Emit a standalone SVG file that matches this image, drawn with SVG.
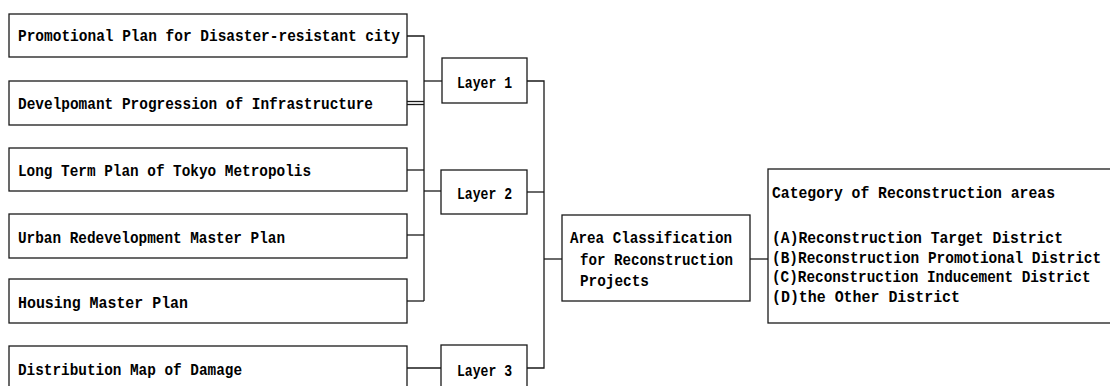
<svg xmlns="http://www.w3.org/2000/svg" width="1110" height="386" viewBox="0 0 1110 386">
<style>
.box{fill:#fff;stroke:#1a1a1a;stroke-width:1.3}
.ln{fill:none;stroke:#1a1a1a;stroke-width:1.3}
text{font-family:"Liberation Mono","DejaVu Sans Mono",monospace;font-weight:bold;font-size:16.5px;fill:#000}
</style>
<rect width="1110" height="386" fill="#fff"/>
<g id="connectors">
<polyline class="ln" points="407,36 424,36 424,301"/>
<line class="ln" x1="407" y1="101.5" x2="424" y2="101.5"/>
<line class="ln" x1="407" y1="104.5" x2="424" y2="104.5"/>
<line class="ln" x1="407" y1="170" x2="424" y2="170"/>
<line class="ln" x1="407" y1="235" x2="424" y2="235"/>
<line class="ln" x1="407" y1="301" x2="424" y2="301"/>
<line class="ln" x1="424" y1="81" x2="442" y2="81"/>
<line class="ln" x1="424" y1="191" x2="441" y2="191"/>
<line class="ln" x1="407" y1="368" x2="441" y2="368"/>
<polyline class="ln" points="527,81 544,81 544,368 527,368"/>
<line class="ln" x1="527" y1="192" x2="544" y2="192"/>
<line class="ln" x1="544" y1="259" x2="562" y2="259"/>
<line class="ln" x1="750" y1="259" x2="768" y2="259"/>
</g>
<g id="n1"><rect class="box" x="9" y="14" width="398" height="43"/><text x="18" y="41" textLength="382" lengthAdjust="spacingAndGlyphs">Promotional Plan for Disaster-resistant city</text></g>
<g id="n2"><rect class="box" x="9" y="81" width="398" height="44"/><text x="18" y="109" textLength="355" lengthAdjust="spacingAndGlyphs">Develpomant Progression of Infrastructure</text></g>
<g id="n3"><rect class="box" x="9" y="148" width="398" height="43"/><text x="18" y="176" textLength="293" lengthAdjust="spacingAndGlyphs">Long Term Plan of Tokyo Metropolis</text></g>
<g id="n4"><rect class="box" x="9" y="214" width="398" height="44"/><text x="18" y="243" textLength="267" lengthAdjust="spacingAndGlyphs">Urban Redevelopment Master Plan</text></g>
<g id="n5"><rect class="box" x="9" y="279" width="398" height="44"/><text x="18" y="308" textLength="170" lengthAdjust="spacingAndGlyphs">Housing Master Plan</text></g>
<g id="n6"><rect class="box" x="9" y="346" width="398" height="50"/><text x="18" y="375" textLength="224" lengthAdjust="spacingAndGlyphs">Distribution Map of Damage</text></g>
<g id="layer1"><rect class="box" x="442" y="58" width="85" height="45"/><text x="457" y="88" textLength="55" lengthAdjust="spacingAndGlyphs">Layer 1</text></g>
<g id="layer2"><rect class="box" x="441" y="170" width="86" height="44"/><text x="457" y="199" textLength="55" lengthAdjust="spacingAndGlyphs">Layer 2</text></g>
<g id="layer3"><rect class="box" x="441" y="345" width="86" height="50"/><text x="457" y="376" textLength="55" lengthAdjust="spacingAndGlyphs">Layer 3</text></g>
<g id="area"><rect class="box" x="562" y="215" width="188" height="86"/>
<text x="570" y="243" textLength="162" lengthAdjust="spacingAndGlyphs">Area Classification</text>
<text x="580" y="265" textLength="153" lengthAdjust="spacingAndGlyphs">for Reconstruction</text>
<text x="580" y="286" textLength="69" lengthAdjust="spacingAndGlyphs">Projects</text></g>
<g id="category"><rect class="box" x="768" y="169" width="352" height="154"/>
<text x="772" y="198" textLength="283" lengthAdjust="spacingAndGlyphs">Category of Reconstruction areas</text>
<text x="772" y="243" textLength="291" lengthAdjust="spacingAndGlyphs">(A)Reconstruction Target District</text>
<text transform="translate(772,263) scale(0.875,1)" x="0" y="0">(B)Reconstruction Promotional District</text>
<text transform="translate(772,282) scale(0.87,1)" x="0" y="0">(C)Reconstruction Inducement District</text>
<text x="772" y="302" textLength="188" lengthAdjust="spacingAndGlyphs">(D)the Other District</text></g>
</svg>
